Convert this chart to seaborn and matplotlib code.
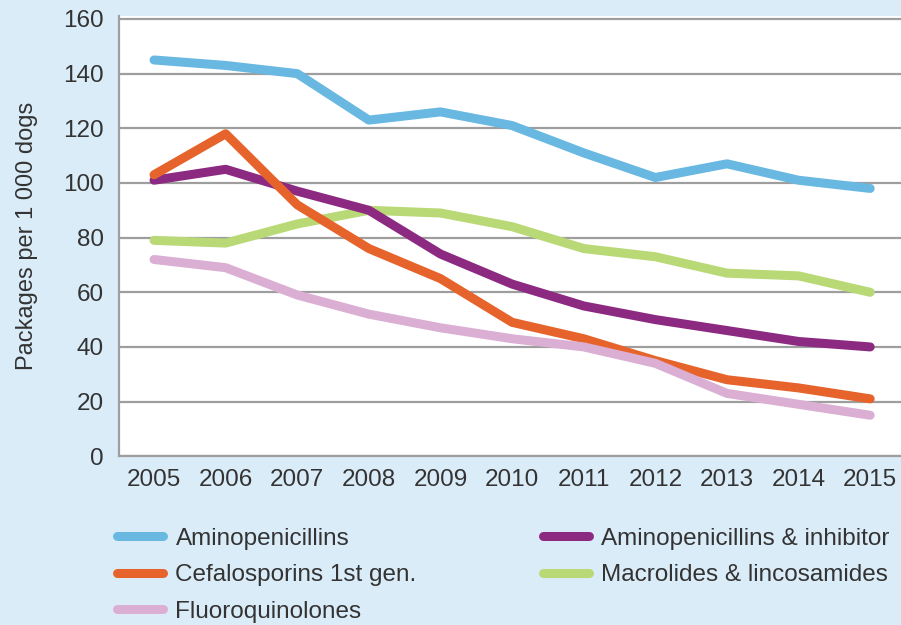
import numpy as np
import pandas as pd
import matplotlib.pyplot as plt
import seaborn as sns

years = [2005, 2006, 2007, 2008, 2009, 2010, 2011, 2012, 2013, 2014, 2015]

aminopenicillins = [145, 143, 140, 123, 126, 121, 111, 102, 107, 101, 98]
cefalosporins = [103, 118, 92, 76, 65, 49, 43, 35, 28, 25, 21]
fluoroquinolones = [72, 69, 59, 52, 47, 43, 40, 34, 23, 19, 15]
amino_inhibitor = [101, 105, 97, 90, 74, 63, 55, 50, 46, 42, 40]
macrolides = [79, 78, 85, 90, 89, 84, 76, 73, 67, 66, 60]

names = ["Aminopenicillins", "Cefalosporins 1st gen.", "Fluoroquinolones",
         "Aminopenicillins & inhibitor", "Macrolides & lincosamides"]
colors = ["#68b8e2", "#e6642b", "#dbafd3", "#8c2a82", "#b8d975"]

series = [aminopenicillins, cefalosporins, fluoroquinolones, amino_inhibitor, macrolides]
df = pd.DataFrame({
    "year": years * len(names),
    "value": [v for s in series for v in s],
    "drug": [n for n in names for _ in years],
})

sns.set_style("white")
plt.rcParams['font.family'] = ['Liberation Sans', 'DejaVu Sans']

bg = "#dbecf9"
fig = plt.figure(figsize=(9.01, 6.25), dpi=100, facecolor=bg)
ax = fig.add_axes([0.132, 0.270, 0.868, 0.704])
ax.set_facecolor("white")

# draw in the order they stack in the picture (blue, green, purple, orange, pink)
draw_order = [0, 4, 3, 1, 2]
for i in draw_order:
    sns.lineplot(data=df[df["drug"] == names[i]], x="year", y="value",
                 color=colors[i], linewidth=6.5, ax=ax,
                 solid_capstyle="round", solid_joinstyle="round")

ax.set_xlim(2004.51, 2015.43)
ax.set_ylim(0, 161)
ax.set_xticks(years)
ax.set_yticks(range(0, 161, 20))
ax.yaxis.grid(True, color="#9e9e9e", linewidth=1.6)
ax.set_axisbelow(True)
for s in ["top", "right"]:
    ax.spines[s].set_visible(False)
for s in ["left", "bottom"]:
    ax.spines[s].set_color("#9e9e9e")
    ax.spines[s].set_linewidth(1.6)
ax.tick_params(axis="both", labelsize=17.5, colors="#333333", length=0)
ax.tick_params(axis="x", pad=9)
ax.tick_params(axis="y", pad=11)
ax.set_xlabel("")
ax.set_ylabel("Packages per 1 000 dogs", fontsize=17, color="#333333", labelpad=18)

handles = [plt.Line2D([], [], color=c, linewidth=6.5, solid_capstyle="round") for c in colors]
fig.legend(handles, names, ncol=2, loc="upper left", bbox_to_anchor=(0.130, 0.156),
           frameon=False, fontsize=17.5, handlelength=1.9, handletextpad=0.5,
           columnspacing=5.2, labelspacing=0.6, labelcolor="#333333",
           borderaxespad=0, borderpad=0)

fig.savefig("out.png", dpi=100, facecolor=bg)
